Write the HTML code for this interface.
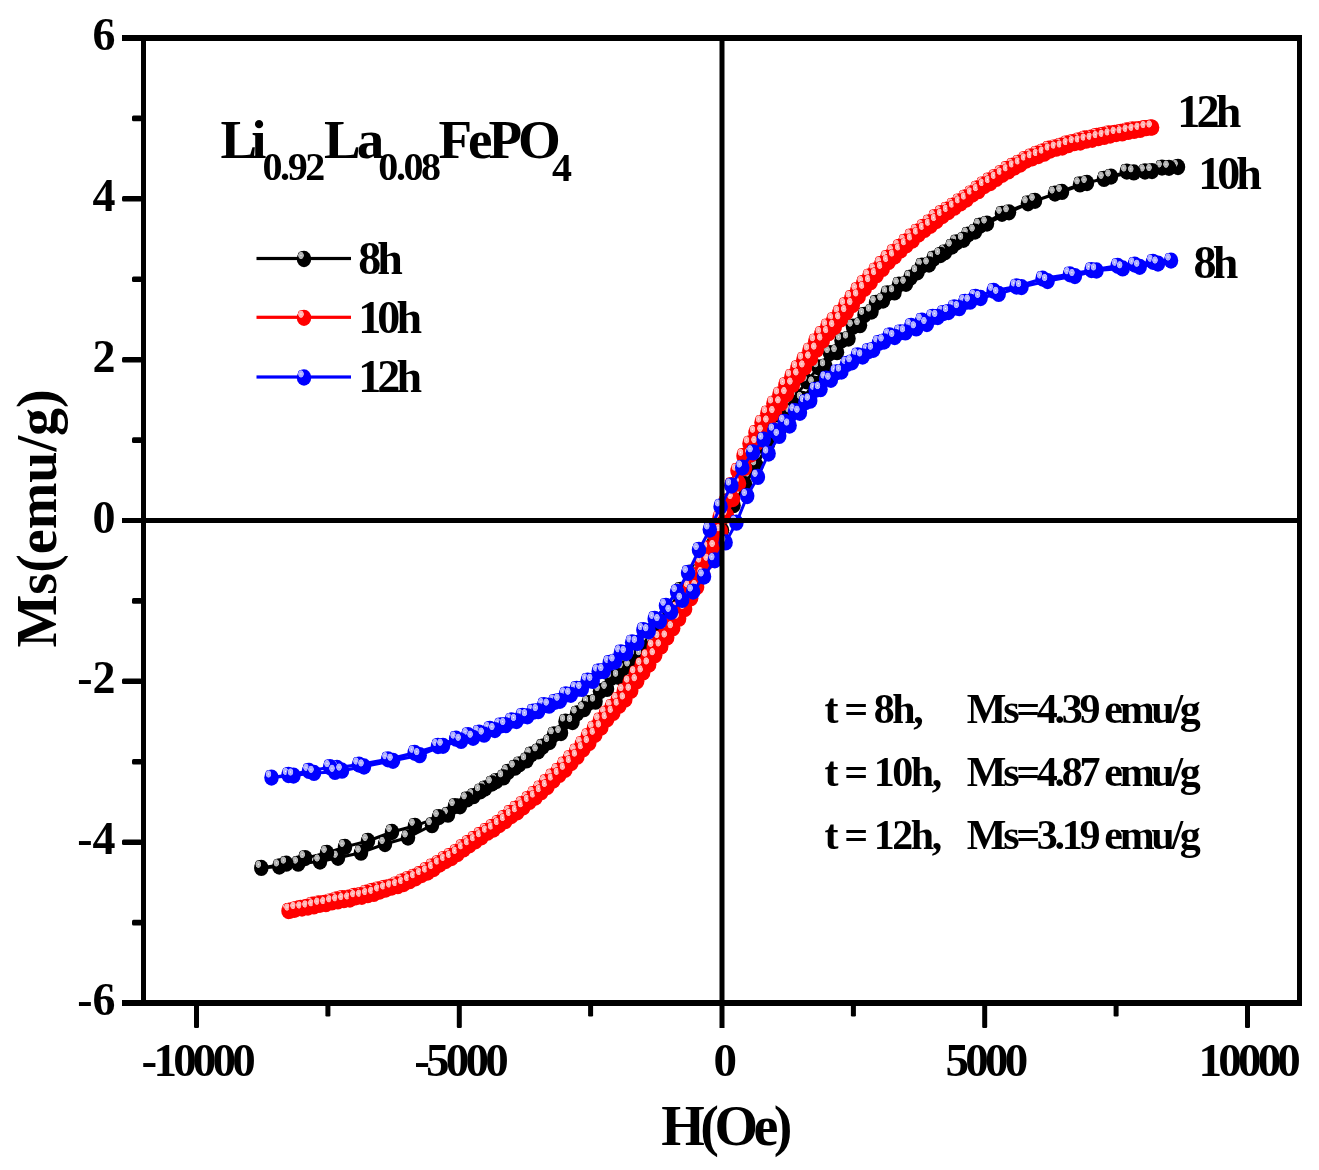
<!DOCTYPE html>
<html lang="en"><head><meta charset="utf-8"><title>M-H hysteresis loops of Li0.92La0.08FePO4</title>
<style>html,body{margin:0;padding:0;background:#fff}svg{display:block;will-change:transform;transform:translateZ(0)}text{font-family:"Liberation Serif",serif;font-weight:bold;fill:#000}</style>
</head><body>
<svg width="1319" height="1170" viewBox="0 0 1319 1170">
<defs>
<radialGradient id="gmk" cx="0.5" cy="0.5" r="0.5"><stop offset="0" stop-color="#ffffff"/><stop offset="0.28" stop-color="#b4b4b4"/><stop offset="0.8" stop-color="#b4b4b4"/><stop offset="1" stop-color="#000000"/></radialGradient>
<g id="mk"><ellipse cx="0" cy="0" rx="7.25" ry="8.15" fill="#000000"/><ellipse cx="-3.0" cy="-3.6" rx="3.1" ry="4.0" fill="url(#gmk)"/></g>
<radialGradient id="gmr" cx="0.5" cy="0.5" r="0.5"><stop offset="0" stop-color="#ffffff"/><stop offset="0.28" stop-color="#ffb4b4"/><stop offset="0.8" stop-color="#ffb4b4"/><stop offset="1" stop-color="#ff0000"/></radialGradient>
<g id="mr"><ellipse cx="0" cy="0" rx="7.25" ry="8.15" fill="#ff0000"/><ellipse cx="-3.0" cy="-3.6" rx="3.1" ry="4.0" fill="url(#gmr)"/></g>
<radialGradient id="gmb" cx="0.5" cy="0.5" r="0.5"><stop offset="0" stop-color="#ffffff"/><stop offset="0.28" stop-color="#b0b0ff"/><stop offset="0.8" stop-color="#b0b0ff"/><stop offset="1" stop-color="#0000ff"/></radialGradient>
<g id="mb"><ellipse cx="0" cy="0" rx="7.25" ry="8.15" fill="#0000ff"/><ellipse cx="-3.0" cy="-3.6" rx="3.1" ry="4.0" fill="url(#gmb)"/></g>
</defs>
<rect x="0" y="0" width="1319" height="1170" fill="#ffffff"/>
<polyline fill="none" stroke="#000000" stroke-width="3" stroke-linejoin="round" points="1178,167 1162,167.6 1145,171.5 1126.8,171.6 1104,178.9 1080,184.4 1055,193.6 1028,203.3 1002,213.8 980,225.7 968,234.6 956.5,242.4 945,252.3 933.5,258.7 922,265.7 910.5,277.7 899,284.6 887.5,293.4 876,302.9 864.5,314.9 853,326.7 841.5,340.4 830,353.1 818.5,367.3 807,381.4 795.5,396.1 784,410.5 772.5,426.6 761,445.5 749.5,464.2 738,481.7 726.5,501.7 715,526.1 703.5,550.9 692,572.3 680.5,589.8 669,610.3 657.5,625.2 646,640.8 634.5,655.3 623,668.3 611.5,677.7 600,691.2 588.5,703.1 577,713.5 565.5,721.6 554,734.5 542.5,746.7 531,754.5 519.5,764.3 508,772 496.5,781.1 485,788.5 473.5,796.2 460,806.3 448,814.7 432,825.2 408,837.5 385,844 361,852.7 338,857.8 320,861.6 298.2,863.7 279.3,866.5 261.3,867.9 286.3,863.7 305.2,858.1 327,852.9 345,846.9 368,841 392,832 415,825.8 439,817.1 455,806.1 467,799.4 480.5,791.3 492,783.5 503.5,777.4 515,767.7 526.5,760.4 538,751.4 549.5,742.1 561,733 572.5,722 584,709.2 595.5,701.7 607,688.9 618.5,676.8 630,666.5 641.5,655.3 653,643 664.5,627.4 676,609.9 687.5,594.2 699,572 710.5,552.1 722,530.3 733.5,505.2 745,484.2 756.5,465.4 768,444 779.5,429.1 791,412.4 802.5,399 814,383.6 825.5,366.4 837,352.2 848.5,338.6 860,325.2 871.5,311.6 883,300.5 894.5,292.4 906,283.8 917.5,272.3 929,264.5 940.5,255 952,246.6 963.5,239.8 975,231.6 987,223.6 1009,212.3 1035,200.8 1062,191.9 1087,183 1111,176.6 1133.8,172.4 1152,171.1 1169,167.8"/>
<g>
<use href="#mk" x="1178" y="167"/>
<use href="#mk" x="1162" y="167.6"/>
<use href="#mk" x="1145" y="171.5"/>
<use href="#mk" x="1126.8" y="171.6"/>
<use href="#mk" x="1104" y="178.9"/>
<use href="#mk" x="1080" y="184.4"/>
<use href="#mk" x="1055" y="193.6"/>
<use href="#mk" x="1028" y="203.3"/>
<use href="#mk" x="1002" y="213.8"/>
<use href="#mk" x="980" y="225.7"/>
<use href="#mk" x="968" y="234.6"/>
<use href="#mk" x="956.5" y="242.4"/>
<use href="#mk" x="945" y="252.3"/>
<use href="#mk" x="933.5" y="258.7"/>
<use href="#mk" x="922" y="265.7"/>
<use href="#mk" x="910.5" y="277.7"/>
<use href="#mk" x="899" y="284.6"/>
<use href="#mk" x="887.5" y="293.4"/>
<use href="#mk" x="876" y="302.9"/>
<use href="#mk" x="864.5" y="314.9"/>
<use href="#mk" x="853" y="326.7"/>
<use href="#mk" x="841.5" y="340.4"/>
<use href="#mk" x="830" y="353.1"/>
<use href="#mk" x="818.5" y="367.3"/>
<use href="#mk" x="807" y="381.4"/>
<use href="#mk" x="795.5" y="396.1"/>
<use href="#mk" x="784" y="410.5"/>
<use href="#mk" x="772.5" y="426.6"/>
<use href="#mk" x="761" y="445.5"/>
<use href="#mk" x="749.5" y="464.2"/>
<use href="#mk" x="738" y="481.7"/>
<use href="#mk" x="726.5" y="501.7"/>
<use href="#mk" x="715" y="526.1"/>
<use href="#mk" x="703.5" y="550.9"/>
<use href="#mk" x="692" y="572.3"/>
<use href="#mk" x="680.5" y="589.8"/>
<use href="#mk" x="669" y="610.3"/>
<use href="#mk" x="657.5" y="625.2"/>
<use href="#mk" x="646" y="640.8"/>
<use href="#mk" x="634.5" y="655.3"/>
<use href="#mk" x="623" y="668.3"/>
<use href="#mk" x="611.5" y="677.7"/>
<use href="#mk" x="600" y="691.2"/>
<use href="#mk" x="588.5" y="703.1"/>
<use href="#mk" x="577" y="713.5"/>
<use href="#mk" x="565.5" y="721.6"/>
<use href="#mk" x="554" y="734.5"/>
<use href="#mk" x="542.5" y="746.7"/>
<use href="#mk" x="531" y="754.5"/>
<use href="#mk" x="519.5" y="764.3"/>
<use href="#mk" x="508" y="772"/>
<use href="#mk" x="496.5" y="781.1"/>
<use href="#mk" x="485" y="788.5"/>
<use href="#mk" x="473.5" y="796.2"/>
<use href="#mk" x="460" y="806.3"/>
<use href="#mk" x="448" y="814.7"/>
<use href="#mk" x="432" y="825.2"/>
<use href="#mk" x="408" y="837.5"/>
<use href="#mk" x="385" y="844"/>
<use href="#mk" x="361" y="852.7"/>
<use href="#mk" x="338" y="857.8"/>
<use href="#mk" x="320" y="861.6"/>
<use href="#mk" x="298.2" y="863.7"/>
<use href="#mk" x="279.3" y="866.5"/>
<use href="#mk" x="261.3" y="867.9"/>
<use href="#mk" x="286.3" y="863.7"/>
<use href="#mk" x="305.2" y="858.1"/>
<use href="#mk" x="327" y="852.9"/>
<use href="#mk" x="345" y="846.9"/>
<use href="#mk" x="368" y="841"/>
<use href="#mk" x="392" y="832"/>
<use href="#mk" x="415" y="825.8"/>
<use href="#mk" x="439" y="817.1"/>
<use href="#mk" x="455" y="806.1"/>
<use href="#mk" x="467" y="799.4"/>
<use href="#mk" x="480.5" y="791.3"/>
<use href="#mk" x="492" y="783.5"/>
<use href="#mk" x="503.5" y="777.4"/>
<use href="#mk" x="515" y="767.7"/>
<use href="#mk" x="526.5" y="760.4"/>
<use href="#mk" x="538" y="751.4"/>
<use href="#mk" x="549.5" y="742.1"/>
<use href="#mk" x="561" y="733"/>
<use href="#mk" x="572.5" y="722"/>
<use href="#mk" x="584" y="709.2"/>
<use href="#mk" x="595.5" y="701.7"/>
<use href="#mk" x="607" y="688.9"/>
<use href="#mk" x="618.5" y="676.8"/>
<use href="#mk" x="630" y="666.5"/>
<use href="#mk" x="641.5" y="655.3"/>
<use href="#mk" x="653" y="643"/>
<use href="#mk" x="664.5" y="627.4"/>
<use href="#mk" x="676" y="609.9"/>
<use href="#mk" x="687.5" y="594.2"/>
<use href="#mk" x="699" y="572"/>
<use href="#mk" x="710.5" y="552.1"/>
<use href="#mk" x="722" y="530.3"/>
<use href="#mk" x="733.5" y="505.2"/>
<use href="#mk" x="745" y="484.2"/>
<use href="#mk" x="756.5" y="465.4"/>
<use href="#mk" x="768" y="444"/>
<use href="#mk" x="779.5" y="429.1"/>
<use href="#mk" x="791" y="412.4"/>
<use href="#mk" x="802.5" y="399"/>
<use href="#mk" x="814" y="383.6"/>
<use href="#mk" x="825.5" y="366.4"/>
<use href="#mk" x="837" y="352.2"/>
<use href="#mk" x="848.5" y="338.6"/>
<use href="#mk" x="860" y="325.2"/>
<use href="#mk" x="871.5" y="311.6"/>
<use href="#mk" x="883" y="300.5"/>
<use href="#mk" x="894.5" y="292.4"/>
<use href="#mk" x="906" y="283.8"/>
<use href="#mk" x="917.5" y="272.3"/>
<use href="#mk" x="929" y="264.5"/>
<use href="#mk" x="940.5" y="255"/>
<use href="#mk" x="952" y="246.6"/>
<use href="#mk" x="963.5" y="239.8"/>
<use href="#mk" x="975" y="231.6"/>
<use href="#mk" x="987" y="223.6"/>
<use href="#mk" x="1009" y="212.3"/>
<use href="#mk" x="1035" y="200.8"/>
<use href="#mk" x="1062" y="191.9"/>
<use href="#mk" x="1087" y="183"/>
<use href="#mk" x="1111" y="176.6"/>
<use href="#mk" x="1133.8" y="172.4"/>
<use href="#mk" x="1152" y="171.1"/>
<use href="#mk" x="1169" y="167.8"/>
</g>
<polyline fill="none" stroke="#ff0000" stroke-width="3" stroke-linejoin="round" points="1150.6,127.5 1144.6,128.2 1138.6,129.1 1132.6,129.4 1126.7,130.5 1120.7,131.9 1114.7,133 1108.7,133.4 1102.7,134.8 1096.7,135.9 1090.7,137.6 1084.7,138.5 1078.8,140.4 1072.8,142.2 1066.8,143.4 1060.8,145.6 1054.8,147.3 1048.8,148.7 1042.8,151.5 1036.9,153.6 1030.9,156.4 1024.9,159.1 1018.9,162.6 1012.9,165.7 1006.9,168.9 1000.9,173.1 994.9,177.1 989,180.4 983,184.3 977,188.5 971,193.3 965,197.5 959,201.3 953,205.6 947,209.6 941.1,213.2 935.1,217.2 929.1,222.4 923.1,227 917.1,231.6 911.1,236.4 905.1,241.7 899.2,247 893.2,252.2 887.2,257.8 881.2,263.9 875.2,270.5 869.2,276.5 863.2,283 857.2,290.2 851.3,297.9 845.3,305.2 839.3,312.7 833.3,320.1 827.3,326.4 821.3,333.8 815.3,341.3 809.4,350.5 803.4,359.6 797.4,368.1 791.4,376.6 785.4,385.1 779.4,394.5 773.4,403.5 767.4,413.3 761.5,422.6 755.5,432.8 749.5,443.5 743.5,455.9 737.5,470.7 731.5,485.2 725.5,501.6 719.5,518.1 713.6,533.8 707.6,548.3 701.6,562.6 695.6,575.2 689.6,587.4 683.6,598.8 677.6,609 671.7,618.6 665.7,628.2 659.7,638.1 653.7,646.9 647.7,656.7 641.7,665 635.7,673.4 629.7,682.7 623.8,691.2 617.8,699.8 611.8,706.8 605.8,713.5 599.8,720.4 593.8,728.5 587.8,736.2 581.9,743.8 575.9,751.4 569.9,758.1 563.9,764.4 557.9,770.8 551.9,776.4 545.9,782.2 539.9,788.3 534,793.8 528,799.2 522,804.1 516,808.7 510,812.9 504,818 498,823 492.1,827 486.1,830.8 480.1,834.9 474.1,838.9 468.1,843 462.1,847.1 456.1,852.1 450.1,855.8 444.2,859.1 438.2,863.1 432.2,866.4 426.2,870.1 420.2,873.9 414.2,876.7 408.2,879.2 402.2,881.5 396.3,884.3 390.3,886.7 384.3,888 378.3,889.4 372.3,891 366.3,892.6 360.3,895.1 354.4,896 348.4,897.7 342.4,898.1 336.4,899.5 330.4,901.3 324.4,902.8 318.4,903.5 312.4,904.6 306.5,907 300.5,907.8 294.5,909.8 288.5,911 290,910.7 296,909.1 302,908.6 308,907.6 313.9,906.4 319.9,904.8 325.9,904.2 331.9,902.4 337.9,901.4 343.9,900.2 349.9,899.5 355.9,897.3 361.8,896.8 367.8,895.2 373.8,893.9 379.8,891.5 385.8,889.5 391.8,887.6 397.8,886.2 403.7,884.1 409.7,881.2 415.7,878.3 421.7,875.1 427.7,872.6 433.7,869.1 439.7,864.6 445.7,861 451.6,858 457.6,854 463.6,849.4 469.6,845.3 475.6,841.3 481.6,837.3 487.6,832.7 493.6,829.6 499.5,825.1 505.5,821.1 511.5,816 517.5,812.3 523.5,807.3 529.5,801.9 535.5,797.6 541.4,792.2 547.4,787 553.4,780.6 559.4,774.9 565.4,769.8 571.4,763 577.4,756.7 583.4,749.3 589.3,743 595.3,734.8 601.3,727.5 607.3,719.3 613.3,712.9 619.3,705.7 625.3,699.5 631.2,690.8 637.2,681.3 643.2,672.5 649.2,664.5 655.2,655.3 661.2,646.5 667.2,637.6 673.2,628.3 679.1,618.7 685.1,609 691.1,598.3 697.1,587.1 703.1,574.2 709.1,560.8 715.1,547.1 721,531.3 727,515.4 733,499.1 739,483.6 745,467.9 751,454.5 757,443.1 763,431.9 768.9,422.6 774.9,413.1 780.9,403.4 786.9,394.2 792.9,384.7 798.9,375.5 804.9,367.5 810.9,358.6 816.8,349.7 822.8,340.6 828.8,333.2 834.8,327 840.8,319.4 846.8,312.2 852.8,305.1 858.7,296.5 864.7,288.8 870.7,282.2 876.7,275.2 882.7,268.9 888.7,262 894.7,256.6 900.7,250.5 906.6,245.3 912.6,240.5 918.6,234.6 924.6,229.9 930.6,225.8 936.6,221.1 942.6,216 948.5,212 954.5,207.7 960.5,203.4 966.5,199.6 972.5,194.6 978.5,191.2 984.5,186.1 990.5,183.1 996.4,178.9 1002.4,174.8 1008.4,171.4 1014.4,167.5 1020.4,164.5 1026.4,160.6 1032.4,158.3 1038.4,156.1 1044.3,153.7 1050.3,150.6 1056.3,148.7 1062.3,147.6 1068.3,145.2 1074.3,143.2 1080.3,142.5 1086.2,140.7 1092.2,139.8 1098.2,138.2 1104.2,136.9 1110.2,135.5 1116.2,134 1122.2,133.4 1128.2,131.9 1134.1,130.9 1140.1,129.9 1146.1,128.2 1152.1,127.6"/>
<g>
<use href="#mr" x="1150.6" y="127.5"/>
<use href="#mr" x="1144.6" y="128.2"/>
<use href="#mr" x="1138.6" y="129.1"/>
<use href="#mr" x="1132.6" y="129.4"/>
<use href="#mr" x="1126.7" y="130.5"/>
<use href="#mr" x="1120.7" y="131.9"/>
<use href="#mr" x="1114.7" y="133"/>
<use href="#mr" x="1108.7" y="133.4"/>
<use href="#mr" x="1102.7" y="134.8"/>
<use href="#mr" x="1096.7" y="135.9"/>
<use href="#mr" x="1090.7" y="137.6"/>
<use href="#mr" x="1084.7" y="138.5"/>
<use href="#mr" x="1078.8" y="140.4"/>
<use href="#mr" x="1072.8" y="142.2"/>
<use href="#mr" x="1066.8" y="143.4"/>
<use href="#mr" x="1060.8" y="145.6"/>
<use href="#mr" x="1054.8" y="147.3"/>
<use href="#mr" x="1048.8" y="148.7"/>
<use href="#mr" x="1042.8" y="151.5"/>
<use href="#mr" x="1036.9" y="153.6"/>
<use href="#mr" x="1030.9" y="156.4"/>
<use href="#mr" x="1024.9" y="159.1"/>
<use href="#mr" x="1018.9" y="162.6"/>
<use href="#mr" x="1012.9" y="165.7"/>
<use href="#mr" x="1006.9" y="168.9"/>
<use href="#mr" x="1000.9" y="173.1"/>
<use href="#mr" x="994.9" y="177.1"/>
<use href="#mr" x="989" y="180.4"/>
<use href="#mr" x="983" y="184.3"/>
<use href="#mr" x="977" y="188.5"/>
<use href="#mr" x="971" y="193.3"/>
<use href="#mr" x="965" y="197.5"/>
<use href="#mr" x="959" y="201.3"/>
<use href="#mr" x="953" y="205.6"/>
<use href="#mr" x="947" y="209.6"/>
<use href="#mr" x="941.1" y="213.2"/>
<use href="#mr" x="935.1" y="217.2"/>
<use href="#mr" x="929.1" y="222.4"/>
<use href="#mr" x="923.1" y="227"/>
<use href="#mr" x="917.1" y="231.6"/>
<use href="#mr" x="911.1" y="236.4"/>
<use href="#mr" x="905.1" y="241.7"/>
<use href="#mr" x="899.2" y="247"/>
<use href="#mr" x="893.2" y="252.2"/>
<use href="#mr" x="887.2" y="257.8"/>
<use href="#mr" x="881.2" y="263.9"/>
<use href="#mr" x="875.2" y="270.5"/>
<use href="#mr" x="869.2" y="276.5"/>
<use href="#mr" x="863.2" y="283"/>
<use href="#mr" x="857.2" y="290.2"/>
<use href="#mr" x="851.3" y="297.9"/>
<use href="#mr" x="845.3" y="305.2"/>
<use href="#mr" x="839.3" y="312.7"/>
<use href="#mr" x="833.3" y="320.1"/>
<use href="#mr" x="827.3" y="326.4"/>
<use href="#mr" x="821.3" y="333.8"/>
<use href="#mr" x="815.3" y="341.3"/>
<use href="#mr" x="809.4" y="350.5"/>
<use href="#mr" x="803.4" y="359.6"/>
<use href="#mr" x="797.4" y="368.1"/>
<use href="#mr" x="791.4" y="376.6"/>
<use href="#mr" x="785.4" y="385.1"/>
<use href="#mr" x="779.4" y="394.5"/>
<use href="#mr" x="773.4" y="403.5"/>
<use href="#mr" x="767.4" y="413.3"/>
<use href="#mr" x="761.5" y="422.6"/>
<use href="#mr" x="755.5" y="432.8"/>
<use href="#mr" x="749.5" y="443.5"/>
<use href="#mr" x="743.5" y="455.9"/>
<use href="#mr" x="737.5" y="470.7"/>
<use href="#mr" x="731.5" y="485.2"/>
<use href="#mr" x="725.5" y="501.6"/>
<use href="#mr" x="719.5" y="518.1"/>
<use href="#mr" x="713.6" y="533.8"/>
<use href="#mr" x="707.6" y="548.3"/>
<use href="#mr" x="701.6" y="562.6"/>
<use href="#mr" x="695.6" y="575.2"/>
<use href="#mr" x="689.6" y="587.4"/>
<use href="#mr" x="683.6" y="598.8"/>
<use href="#mr" x="677.6" y="609"/>
<use href="#mr" x="671.7" y="618.6"/>
<use href="#mr" x="665.7" y="628.2"/>
<use href="#mr" x="659.7" y="638.1"/>
<use href="#mr" x="653.7" y="646.9"/>
<use href="#mr" x="647.7" y="656.7"/>
<use href="#mr" x="641.7" y="665"/>
<use href="#mr" x="635.7" y="673.4"/>
<use href="#mr" x="629.7" y="682.7"/>
<use href="#mr" x="623.8" y="691.2"/>
<use href="#mr" x="617.8" y="699.8"/>
<use href="#mr" x="611.8" y="706.8"/>
<use href="#mr" x="605.8" y="713.5"/>
<use href="#mr" x="599.8" y="720.4"/>
<use href="#mr" x="593.8" y="728.5"/>
<use href="#mr" x="587.8" y="736.2"/>
<use href="#mr" x="581.9" y="743.8"/>
<use href="#mr" x="575.9" y="751.4"/>
<use href="#mr" x="569.9" y="758.1"/>
<use href="#mr" x="563.9" y="764.4"/>
<use href="#mr" x="557.9" y="770.8"/>
<use href="#mr" x="551.9" y="776.4"/>
<use href="#mr" x="545.9" y="782.2"/>
<use href="#mr" x="539.9" y="788.3"/>
<use href="#mr" x="534" y="793.8"/>
<use href="#mr" x="528" y="799.2"/>
<use href="#mr" x="522" y="804.1"/>
<use href="#mr" x="516" y="808.7"/>
<use href="#mr" x="510" y="812.9"/>
<use href="#mr" x="504" y="818"/>
<use href="#mr" x="498" y="823"/>
<use href="#mr" x="492.1" y="827"/>
<use href="#mr" x="486.1" y="830.8"/>
<use href="#mr" x="480.1" y="834.9"/>
<use href="#mr" x="474.1" y="838.9"/>
<use href="#mr" x="468.1" y="843"/>
<use href="#mr" x="462.1" y="847.1"/>
<use href="#mr" x="456.1" y="852.1"/>
<use href="#mr" x="450.1" y="855.8"/>
<use href="#mr" x="444.2" y="859.1"/>
<use href="#mr" x="438.2" y="863.1"/>
<use href="#mr" x="432.2" y="866.4"/>
<use href="#mr" x="426.2" y="870.1"/>
<use href="#mr" x="420.2" y="873.9"/>
<use href="#mr" x="414.2" y="876.7"/>
<use href="#mr" x="408.2" y="879.2"/>
<use href="#mr" x="402.2" y="881.5"/>
<use href="#mr" x="396.3" y="884.3"/>
<use href="#mr" x="390.3" y="886.7"/>
<use href="#mr" x="384.3" y="888"/>
<use href="#mr" x="378.3" y="889.4"/>
<use href="#mr" x="372.3" y="891"/>
<use href="#mr" x="366.3" y="892.6"/>
<use href="#mr" x="360.3" y="895.1"/>
<use href="#mr" x="354.4" y="896"/>
<use href="#mr" x="348.4" y="897.7"/>
<use href="#mr" x="342.4" y="898.1"/>
<use href="#mr" x="336.4" y="899.5"/>
<use href="#mr" x="330.4" y="901.3"/>
<use href="#mr" x="324.4" y="902.8"/>
<use href="#mr" x="318.4" y="903.5"/>
<use href="#mr" x="312.4" y="904.6"/>
<use href="#mr" x="306.5" y="907"/>
<use href="#mr" x="300.5" y="907.8"/>
<use href="#mr" x="294.5" y="909.8"/>
<use href="#mr" x="288.5" y="911"/>
<use href="#mr" x="290" y="910.7"/>
<use href="#mr" x="296" y="909.1"/>
<use href="#mr" x="302" y="908.6"/>
<use href="#mr" x="308" y="907.6"/>
<use href="#mr" x="313.9" y="906.4"/>
<use href="#mr" x="319.9" y="904.8"/>
<use href="#mr" x="325.9" y="904.2"/>
<use href="#mr" x="331.9" y="902.4"/>
<use href="#mr" x="337.9" y="901.4"/>
<use href="#mr" x="343.9" y="900.2"/>
<use href="#mr" x="349.9" y="899.5"/>
<use href="#mr" x="355.9" y="897.3"/>
<use href="#mr" x="361.8" y="896.8"/>
<use href="#mr" x="367.8" y="895.2"/>
<use href="#mr" x="373.8" y="893.9"/>
<use href="#mr" x="379.8" y="891.5"/>
<use href="#mr" x="385.8" y="889.5"/>
<use href="#mr" x="391.8" y="887.6"/>
<use href="#mr" x="397.8" y="886.2"/>
<use href="#mr" x="403.7" y="884.1"/>
<use href="#mr" x="409.7" y="881.2"/>
<use href="#mr" x="415.7" y="878.3"/>
<use href="#mr" x="421.7" y="875.1"/>
<use href="#mr" x="427.7" y="872.6"/>
<use href="#mr" x="433.7" y="869.1"/>
<use href="#mr" x="439.7" y="864.6"/>
<use href="#mr" x="445.7" y="861"/>
<use href="#mr" x="451.6" y="858"/>
<use href="#mr" x="457.6" y="854"/>
<use href="#mr" x="463.6" y="849.4"/>
<use href="#mr" x="469.6" y="845.3"/>
<use href="#mr" x="475.6" y="841.3"/>
<use href="#mr" x="481.6" y="837.3"/>
<use href="#mr" x="487.6" y="832.7"/>
<use href="#mr" x="493.6" y="829.6"/>
<use href="#mr" x="499.5" y="825.1"/>
<use href="#mr" x="505.5" y="821.1"/>
<use href="#mr" x="511.5" y="816"/>
<use href="#mr" x="517.5" y="812.3"/>
<use href="#mr" x="523.5" y="807.3"/>
<use href="#mr" x="529.5" y="801.9"/>
<use href="#mr" x="535.5" y="797.6"/>
<use href="#mr" x="541.4" y="792.2"/>
<use href="#mr" x="547.4" y="787"/>
<use href="#mr" x="553.4" y="780.6"/>
<use href="#mr" x="559.4" y="774.9"/>
<use href="#mr" x="565.4" y="769.8"/>
<use href="#mr" x="571.4" y="763"/>
<use href="#mr" x="577.4" y="756.7"/>
<use href="#mr" x="583.4" y="749.3"/>
<use href="#mr" x="589.3" y="743"/>
<use href="#mr" x="595.3" y="734.8"/>
<use href="#mr" x="601.3" y="727.5"/>
<use href="#mr" x="607.3" y="719.3"/>
<use href="#mr" x="613.3" y="712.9"/>
<use href="#mr" x="619.3" y="705.7"/>
<use href="#mr" x="625.3" y="699.5"/>
<use href="#mr" x="631.2" y="690.8"/>
<use href="#mr" x="637.2" y="681.3"/>
<use href="#mr" x="643.2" y="672.5"/>
<use href="#mr" x="649.2" y="664.5"/>
<use href="#mr" x="655.2" y="655.3"/>
<use href="#mr" x="661.2" y="646.5"/>
<use href="#mr" x="667.2" y="637.6"/>
<use href="#mr" x="673.2" y="628.3"/>
<use href="#mr" x="679.1" y="618.7"/>
<use href="#mr" x="685.1" y="609"/>
<use href="#mr" x="691.1" y="598.3"/>
<use href="#mr" x="697.1" y="587.1"/>
<use href="#mr" x="703.1" y="574.2"/>
<use href="#mr" x="709.1" y="560.8"/>
<use href="#mr" x="715.1" y="547.1"/>
<use href="#mr" x="721" y="531.3"/>
<use href="#mr" x="727" y="515.4"/>
<use href="#mr" x="733" y="499.1"/>
<use href="#mr" x="739" y="483.6"/>
<use href="#mr" x="745" y="467.9"/>
<use href="#mr" x="751" y="454.5"/>
<use href="#mr" x="757" y="443.1"/>
<use href="#mr" x="763" y="431.9"/>
<use href="#mr" x="768.9" y="422.6"/>
<use href="#mr" x="774.9" y="413.1"/>
<use href="#mr" x="780.9" y="403.4"/>
<use href="#mr" x="786.9" y="394.2"/>
<use href="#mr" x="792.9" y="384.7"/>
<use href="#mr" x="798.9" y="375.5"/>
<use href="#mr" x="804.9" y="367.5"/>
<use href="#mr" x="810.9" y="358.6"/>
<use href="#mr" x="816.8" y="349.7"/>
<use href="#mr" x="822.8" y="340.6"/>
<use href="#mr" x="828.8" y="333.2"/>
<use href="#mr" x="834.8" y="327"/>
<use href="#mr" x="840.8" y="319.4"/>
<use href="#mr" x="846.8" y="312.2"/>
<use href="#mr" x="852.8" y="305.1"/>
<use href="#mr" x="858.7" y="296.5"/>
<use href="#mr" x="864.7" y="288.8"/>
<use href="#mr" x="870.7" y="282.2"/>
<use href="#mr" x="876.7" y="275.2"/>
<use href="#mr" x="882.7" y="268.9"/>
<use href="#mr" x="888.7" y="262"/>
<use href="#mr" x="894.7" y="256.6"/>
<use href="#mr" x="900.7" y="250.5"/>
<use href="#mr" x="906.6" y="245.3"/>
<use href="#mr" x="912.6" y="240.5"/>
<use href="#mr" x="918.6" y="234.6"/>
<use href="#mr" x="924.6" y="229.9"/>
<use href="#mr" x="930.6" y="225.8"/>
<use href="#mr" x="936.6" y="221.1"/>
<use href="#mr" x="942.6" y="216"/>
<use href="#mr" x="948.5" y="212"/>
<use href="#mr" x="954.5" y="207.7"/>
<use href="#mr" x="960.5" y="203.4"/>
<use href="#mr" x="966.5" y="199.6"/>
<use href="#mr" x="972.5" y="194.6"/>
<use href="#mr" x="978.5" y="191.2"/>
<use href="#mr" x="984.5" y="186.1"/>
<use href="#mr" x="990.5" y="183.1"/>
<use href="#mr" x="996.4" y="178.9"/>
<use href="#mr" x="1002.4" y="174.8"/>
<use href="#mr" x="1008.4" y="171.4"/>
<use href="#mr" x="1014.4" y="167.5"/>
<use href="#mr" x="1020.4" y="164.5"/>
<use href="#mr" x="1026.4" y="160.6"/>
<use href="#mr" x="1032.4" y="158.3"/>
<use href="#mr" x="1038.4" y="156.1"/>
<use href="#mr" x="1044.3" y="153.7"/>
<use href="#mr" x="1050.3" y="150.6"/>
<use href="#mr" x="1056.3" y="148.7"/>
<use href="#mr" x="1062.3" y="147.6"/>
<use href="#mr" x="1068.3" y="145.2"/>
<use href="#mr" x="1074.3" y="143.2"/>
<use href="#mr" x="1080.3" y="142.5"/>
<use href="#mr" x="1086.2" y="140.7"/>
<use href="#mr" x="1092.2" y="139.8"/>
<use href="#mr" x="1098.2" y="138.2"/>
<use href="#mr" x="1104.2" y="136.9"/>
<use href="#mr" x="1110.2" y="135.5"/>
<use href="#mr" x="1116.2" y="134"/>
<use href="#mr" x="1122.2" y="133.4"/>
<use href="#mr" x="1128.2" y="131.9"/>
<use href="#mr" x="1134.1" y="130.9"/>
<use href="#mr" x="1140.1" y="129.9"/>
<use href="#mr" x="1146.1" y="128.2"/>
<use href="#mr" x="1152.1" y="127.6"/>
</g>
<polyline fill="none" stroke="#0000ff" stroke-width="3" stroke-linejoin="round" points="1171,260.6 1153,261.8 1134.7,264.6 1117.7,265.8 1091.5,270.1 1069.9,274.3 1042.6,278.6 1016.5,286.5 993.7,290.8 975.6,296.8 965.1,301.9 954.3,307.5 943.5,313.1 932.7,317 922,320.7 911.2,326 900.4,332.3 889.7,335.5 879,342.8 868.3,351.2 857.7,355.4 847.1,363.9 836.5,372.3 826.1,378.6 815.7,389.8 805.4,402.2 795.1,411.2 784.8,421.9 774.3,430.7 763.7,439.7 753,452.4 742.2,467.6 731.4,485.6 720.6,506.5 709.8,529.5 699,550 688.1,572.9 677.1,592 666,605.8 654.7,618.9 643.4,630.1 632.1,642.5 620.9,652.4 609.7,662.9 598.7,671.5 587.7,680.6 576.7,688.9 565.8,694.5 554.9,701.8 544,705.2 533.2,711.7 522.4,715.8 511.5,720.5 500.7,725.4 489.9,729 479.1,732.6 468.1,735.1 456.1,738.7 438,746 414.7,752.8 388,759.3 359,764.6 337,767.8 330,767.2 309,770.9 288.5,775 271.5,777.6 293.5,775.6 314,772.9 335,771.9 342,770.7 364,766.5 393,760.8 419.7,755.2 443,745.8 461.1,740.9 473.1,737.8 484.1,734.7 494.9,730.1 505.7,725.1 516.5,721.1 527.4,716.3 538.2,711.2 549.1,705.7 559.9,700.8 570.8,694.8 581.8,688.9 592.7,680.9 603.8,671.1 614.9,661.5 626.1,653 637.3,642.9 648.7,631.3 659.9,621.2 671.1,611.9 682.2,599.9 693.1,591.6 704,576.5 714.8,560.3 725.6,542.4 736.4,522.7 747.2,496.1 757.9,476.9 768.6,453.6 779.2,435.9 789.6,425.6 799.9,412.8 810.2,400.7 820.5,389.2 830.9,379.8 841.4,371.6 852,362.3 862.6,356.5 873.3,349.8 884,341.5 894.7,337 905.4,332.4 916.2,328.4 926.9,324.1 937.7,317 948.5,312.1 959.3,308.2 970.1,301.7 980.6,298 998.7,293.9 1021.5,287.1 1047.6,281.1 1074.9,276.1 1096.5,270.5 1122.7,268.4 1139.7,266.8 1158,263.6"/>
<g>
<use href="#mb" x="1171" y="260.6"/>
<use href="#mb" x="1153" y="261.8"/>
<use href="#mb" x="1134.7" y="264.6"/>
<use href="#mb" x="1117.7" y="265.8"/>
<use href="#mb" x="1091.5" y="270.1"/>
<use href="#mb" x="1069.9" y="274.3"/>
<use href="#mb" x="1042.6" y="278.6"/>
<use href="#mb" x="1016.5" y="286.5"/>
<use href="#mb" x="993.7" y="290.8"/>
<use href="#mb" x="975.6" y="296.8"/>
<use href="#mb" x="965.1" y="301.9"/>
<use href="#mb" x="954.3" y="307.5"/>
<use href="#mb" x="943.5" y="313.1"/>
<use href="#mb" x="932.7" y="317"/>
<use href="#mb" x="922" y="320.7"/>
<use href="#mb" x="911.2" y="326"/>
<use href="#mb" x="900.4" y="332.3"/>
<use href="#mb" x="889.7" y="335.5"/>
<use href="#mb" x="879" y="342.8"/>
<use href="#mb" x="868.3" y="351.2"/>
<use href="#mb" x="857.7" y="355.4"/>
<use href="#mb" x="847.1" y="363.9"/>
<use href="#mb" x="836.5" y="372.3"/>
<use href="#mb" x="826.1" y="378.6"/>
<use href="#mb" x="815.7" y="389.8"/>
<use href="#mb" x="805.4" y="402.2"/>
<use href="#mb" x="795.1" y="411.2"/>
<use href="#mb" x="784.8" y="421.9"/>
<use href="#mb" x="774.3" y="430.7"/>
<use href="#mb" x="763.7" y="439.7"/>
<use href="#mb" x="753" y="452.4"/>
<use href="#mb" x="742.2" y="467.6"/>
<use href="#mb" x="731.4" y="485.6"/>
<use href="#mb" x="720.6" y="506.5"/>
<use href="#mb" x="709.8" y="529.5"/>
<use href="#mb" x="699" y="550"/>
<use href="#mb" x="688.1" y="572.9"/>
<use href="#mb" x="677.1" y="592"/>
<use href="#mb" x="666" y="605.8"/>
<use href="#mb" x="654.7" y="618.9"/>
<use href="#mb" x="643.4" y="630.1"/>
<use href="#mb" x="632.1" y="642.5"/>
<use href="#mb" x="620.9" y="652.4"/>
<use href="#mb" x="609.7" y="662.9"/>
<use href="#mb" x="598.7" y="671.5"/>
<use href="#mb" x="587.7" y="680.6"/>
<use href="#mb" x="576.7" y="688.9"/>
<use href="#mb" x="565.8" y="694.5"/>
<use href="#mb" x="554.9" y="701.8"/>
<use href="#mb" x="544" y="705.2"/>
<use href="#mb" x="533.2" y="711.7"/>
<use href="#mb" x="522.4" y="715.8"/>
<use href="#mb" x="511.5" y="720.5"/>
<use href="#mb" x="500.7" y="725.4"/>
<use href="#mb" x="489.9" y="729"/>
<use href="#mb" x="479.1" y="732.6"/>
<use href="#mb" x="468.1" y="735.1"/>
<use href="#mb" x="456.1" y="738.7"/>
<use href="#mb" x="438" y="746"/>
<use href="#mb" x="414.7" y="752.8"/>
<use href="#mb" x="388" y="759.3"/>
<use href="#mb" x="359" y="764.6"/>
<use href="#mb" x="337" y="767.8"/>
<use href="#mb" x="330" y="767.2"/>
<use href="#mb" x="309" y="770.9"/>
<use href="#mb" x="288.5" y="775"/>
<use href="#mb" x="271.5" y="777.6"/>
<use href="#mb" x="293.5" y="775.6"/>
<use href="#mb" x="314" y="772.9"/>
<use href="#mb" x="335" y="771.9"/>
<use href="#mb" x="342" y="770.7"/>
<use href="#mb" x="364" y="766.5"/>
<use href="#mb" x="393" y="760.8"/>
<use href="#mb" x="419.7" y="755.2"/>
<use href="#mb" x="443" y="745.8"/>
<use href="#mb" x="461.1" y="740.9"/>
<use href="#mb" x="473.1" y="737.8"/>
<use href="#mb" x="484.1" y="734.7"/>
<use href="#mb" x="494.9" y="730.1"/>
<use href="#mb" x="505.7" y="725.1"/>
<use href="#mb" x="516.5" y="721.1"/>
<use href="#mb" x="527.4" y="716.3"/>
<use href="#mb" x="538.2" y="711.2"/>
<use href="#mb" x="549.1" y="705.7"/>
<use href="#mb" x="559.9" y="700.8"/>
<use href="#mb" x="570.8" y="694.8"/>
<use href="#mb" x="581.8" y="688.9"/>
<use href="#mb" x="592.7" y="680.9"/>
<use href="#mb" x="603.8" y="671.1"/>
<use href="#mb" x="614.9" y="661.5"/>
<use href="#mb" x="626.1" y="653"/>
<use href="#mb" x="637.3" y="642.9"/>
<use href="#mb" x="648.7" y="631.3"/>
<use href="#mb" x="659.9" y="621.2"/>
<use href="#mb" x="671.1" y="611.9"/>
<use href="#mb" x="682.2" y="599.9"/>
<use href="#mb" x="693.1" y="591.6"/>
<use href="#mb" x="704" y="576.5"/>
<use href="#mb" x="714.8" y="560.3"/>
<use href="#mb" x="725.6" y="542.4"/>
<use href="#mb" x="736.4" y="522.7"/>
<use href="#mb" x="747.2" y="496.1"/>
<use href="#mb" x="757.9" y="476.9"/>
<use href="#mb" x="768.6" y="453.6"/>
<use href="#mb" x="779.2" y="435.9"/>
<use href="#mb" x="789.6" y="425.6"/>
<use href="#mb" x="799.9" y="412.8"/>
<use href="#mb" x="810.2" y="400.7"/>
<use href="#mb" x="820.5" y="389.2"/>
<use href="#mb" x="830.9" y="379.8"/>
<use href="#mb" x="841.4" y="371.6"/>
<use href="#mb" x="852" y="362.3"/>
<use href="#mb" x="862.6" y="356.5"/>
<use href="#mb" x="873.3" y="349.8"/>
<use href="#mb" x="884" y="341.5"/>
<use href="#mb" x="894.7" y="337"/>
<use href="#mb" x="905.4" y="332.4"/>
<use href="#mb" x="916.2" y="328.4"/>
<use href="#mb" x="926.9" y="324.1"/>
<use href="#mb" x="937.7" y="317"/>
<use href="#mb" x="948.5" y="312.1"/>
<use href="#mb" x="959.3" y="308.2"/>
<use href="#mb" x="970.1" y="301.7"/>
<use href="#mb" x="980.6" y="298"/>
<use href="#mb" x="998.7" y="293.9"/>
<use href="#mb" x="1021.5" y="287.1"/>
<use href="#mb" x="1047.6" y="281.1"/>
<use href="#mb" x="1074.9" y="276.1"/>
<use href="#mb" x="1096.5" y="270.5"/>
<use href="#mb" x="1122.7" y="268.4"/>
<use href="#mb" x="1139.7" y="266.8"/>
<use href="#mb" x="1158" y="263.6"/>
</g>
<g fill="#000000">
<rect x="141" y="35" width="5" height="971"/>
<rect x="1297" y="35" width="5" height="971"/>
<rect x="122" y="35" width="1180" height="6"/>
<rect x="122" y="1000" width="1180" height="6"/>
<rect x="122" y="518" width="1178" height="5"/>
<rect x="719.5" y="38" width="5" height="990"/>
<rect x="122" y="196" width="20" height="5.6" rx="1.5"/>
<rect x="122" y="356.9" width="20" height="5.6" rx="1.5"/>
<rect x="122" y="678.5" width="20" height="5.6" rx="1.5"/>
<rect x="122" y="839.4" width="20" height="5.6" rx="1.5"/>
<rect x="132" y="115.6" width="10" height="5.6" rx="1.5"/>
<rect x="132" y="276.4" width="10" height="5.6" rx="1.5"/>
<rect x="132" y="437.3" width="10" height="5.6" rx="1.5"/>
<rect x="132" y="598.1" width="10" height="5.6" rx="1.5"/>
<rect x="132" y="759" width="10" height="5.6" rx="1.5"/>
<rect x="132" y="919.8" width="10" height="5.6" rx="1.5"/>
<rect x="194" y="1003" width="5" height="25" rx="1.2"/>
<rect x="456.8" y="1003" width="5" height="25" rx="1.2"/>
<rect x="982.2" y="1003" width="5" height="25" rx="1.2"/>
<rect x="1245" y="1003" width="5" height="25" rx="1.2"/>
<rect x="325.4" y="1003" width="5" height="13.5" rx="1.2"/>
<rect x="588.1" y="1003" width="5" height="13.5" rx="1.2"/>
<rect x="850.9" y="1003" width="5" height="13.5" rx="1.2"/>
<rect x="1113.6" y="1003" width="5" height="13.5" rx="1.2"/>
</g>
<text x="115.6" y="50" font-size="46" letter-spacing="0" text-anchor="end">6</text>
<text x="115.6" y="210.8" font-size="46" letter-spacing="0" text-anchor="end">4</text>
<text x="115.6" y="371.7" font-size="46" letter-spacing="0" text-anchor="end">2</text>
<text x="115.6" y="532.5" font-size="46" letter-spacing="0" text-anchor="end">0</text>
<text x="115.6" y="693.3" font-size="46" letter-spacing="0" text-anchor="end">-2</text>
<text x="115.6" y="854.2" font-size="46" letter-spacing="0" text-anchor="end">-4</text>
<text x="115.6" y="1015" font-size="46" letter-spacing="0" text-anchor="end">-6</text>
<text x="196.8" y="1076" font-size="47" letter-spacing="-3.8" text-anchor="middle">-10000</text>
<text x="459.6" y="1076" font-size="47" letter-spacing="-3.8" text-anchor="middle">-5000</text>
<text x="723.3" y="1076" font-size="47" letter-spacing="-3.8" text-anchor="middle">0</text>
<text x="985" y="1076" font-size="47" letter-spacing="-3.8" text-anchor="middle">5000</text>
<text x="1247.8" y="1076" font-size="47" letter-spacing="-3.8" text-anchor="middle">10000</text>
<text x="661.2" y="1144.6" font-size="56" letter-spacing="-4.5">H(Oe)</text>
<text transform="translate(56.3,647.5) rotate(-90)" x="0" y="0" font-size="56" letter-spacing="0">Ms(emu/g)</text>
<text x="220.5" y="157.6" font-size="55" letter-spacing="-6">Li</text>
<text x="262.5" y="180" font-size="40" letter-spacing="-2.4">0.92</text>
<text x="324" y="157.6" font-size="55" letter-spacing="-4">La</text>
<text x="378.3" y="180" font-size="40" letter-spacing="-2.4">0.08</text>
<text x="438.5" y="157.6" font-size="55" letter-spacing="-4">FePO</text>
<text x="552" y="181" font-size="40" letter-spacing="0">4</text>
<rect x="256.5" y="256.9" width="94.5" height="3.2" fill="#000000"/>
<use href="#mk" x="304" y="259"/>
<text x="358.2" y="273.7" font-size="46" letter-spacing="-3.9">8h</text>
<rect x="256.5" y="315.7" width="94.5" height="3.2" fill="#ff0000"/>
<use href="#mr" x="304" y="317.8"/>
<text x="358.2" y="332.5" font-size="46" letter-spacing="-3.9">10h</text>
<rect x="256.5" y="375.4" width="94.5" height="3.2" fill="#0000ff"/>
<use href="#mb" x="304" y="377.5"/>
<text x="358.2" y="392.2" font-size="46" letter-spacing="-3.9">12h</text>
<text x="1177.2" y="127.2" font-size="46" letter-spacing="-3.7">12h</text>
<text x="1198.3" y="189.2" font-size="46" letter-spacing="-4.0">10h</text>
<text x="1193.4" y="277.7" font-size="46" letter-spacing="-3.7">8h</text>
<text x="824.6" y="722.6" font-size="42" letter-spacing="-2.45">t = 8h,</text>
<text x="824.6" y="786.2" font-size="42" letter-spacing="-2.45">t = 10h,</text>
<text x="824.6" y="849.3" font-size="42" letter-spacing="-2.45">t = 12h,</text>
<text x="966.8" y="722.6" font-size="42" letter-spacing="-3.3">Ms=4.39 emu/g</text>
<text x="966.8" y="786.2" font-size="42" letter-spacing="-3.3">Ms=4.87 emu/g</text>
<text x="966.8" y="849.3" font-size="42" letter-spacing="-3.3">Ms=3.19 emu/g</text>
</svg>
</body></html>
